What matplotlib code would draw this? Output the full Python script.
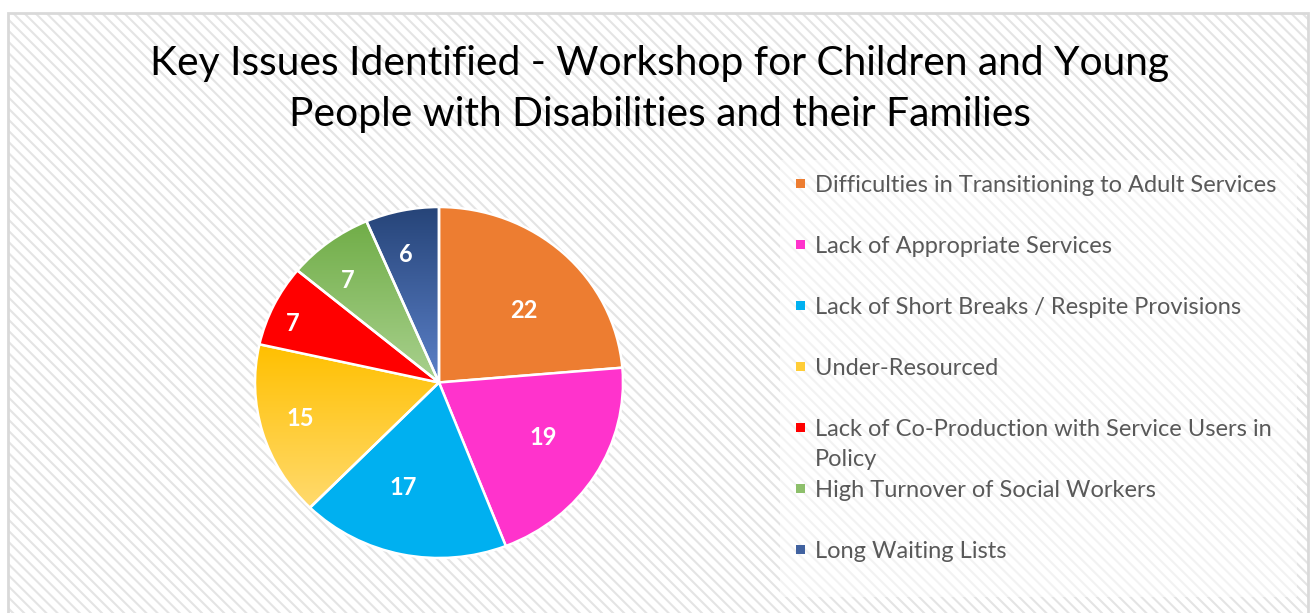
import numpy as np
import matplotlib.pyplot as plt
from matplotlib.patches import Rectangle
from matplotlib.colors import LinearSegmentedColormap, to_rgb

title = 'Key Issues Identified - Workshop for Children and Young\nPeople with Disabilities and their Families'
issues = ['Difficulties in Transitioning to Adult Services',
          'Lack of Appropriate Services',
          'Lack of Short Breaks / Respite Provisions',
          'Under-Resourced',
          'Lack of Co-Production with Service Users in\nPolicy',
          'High Turnover of Social Workers',
          'Long Waiting Lists']
counts = [22, 19, 17, 15, 7, 7, 6]
colors = ['#ED7D31', '#FF33CC', '#00B0F0', '#FFC000', '#FF0000', '#70AD47', '#2F528F']
# slices filled with a top -> bottom gradient
gradients = {3: ('#FFC000', '#FFDA6E'), 5: ('#70AD47', '#A9D18E'), 6: ('#264478', '#5B80C8')}

plt.rcParams['font.family'] = ['Lato', 'DejaVu Sans']
plt.rcParams['hatch.linewidth'] = 1.5

W, H = 1316, 613
fig = plt.figure(figsize=(W / 100, H / 100), dpi=100)


def fx(x):
    return x / W


def fy(y):
    return 1 - y / H


# striped chart area + frame
fig.add_artist(Rectangle((fx(8), 0), fx(1300), fy(13), transform=fig.transFigure, zorder=-3,
                         facecolor='white', edgecolor='#e4e4e4', hatch='\\\\\\', linewidth=0))
fig.add_artist(Rectangle((fx(8), -0.01), fx(1300), fy(13) + 0.01, transform=fig.transFigure, zorder=-2,
                         fill=False, edgecolor='#d9d9d9', linewidth=2))
# legend box
fig.add_artist(Rectangle((fx(780), fy(597)), fx(517), (597 - 160) / H, transform=fig.transFigure,
                         zorder=-1, facecolor='white', alpha=0.55, linewidth=0))

fig.text(fx(660), fy(89), title, ha='center', va='center', fontsize=29.3, color='black', linespacing=1.45)

ax = fig.add_axes([fx(255), fy(558), fx(368), (558 - 207) / H])
total = sum(counts)
wedges, texts, autotexts = ax.pie(
    counts, colors=colors, startangle=90, counterclock=False,
    autopct=lambda p: f'{p * total / 100:.0f}', pctdistance=0.63,
    wedgeprops=dict(edgecolor='white', linewidth=1.8),
    textprops=dict(color='white', fontsize=17, fontweight='bold'))

# excel pushes the labels of thin slices further out and nudges them a little
label_r = [0.625, 0.64, 0.62, 0.78, 0.87, 0.77, 0.76]
label_turn = [-4.8, 3.7, -6.6, -2.2, 2.5, 3.2, 2.2]
for t, w, r, d in zip(autotexts, wedges, label_r, label_turn):
    a = np.deg2rad((w.theta1 + w.theta2) / 2 + d)
    t.set_position((r * np.cos(a), r * np.sin(a)))
    t.set_va('center_baseline')

for i, (c0, c1) in gradients.items():
    w = wedges[i]
    ext = w.get_path().get_extents()
    cmap = LinearSegmentedColormap.from_list('g%d' % i, [c0, c1])
    im = ax.imshow(np.linspace(0, 1, 256).reshape(-1, 1), cmap=cmap, aspect='auto', origin='upper',
                   extent=(ext.x0, ext.x1, ext.y0, ext.y1), zorder=0.5)
    im.set_clip_path(w)
    w.set_facecolor('none')

ax.set_aspect('auto')
ax.set_xlim(-1, 1)
ax.set_ylim(-1, 1)
ax.axis('off')

# legend
for i, (lab, col) in enumerate(zip(issues, colors)):
    if i in gradients:
        col = tuple((np.array(to_rgb(gradients[i][0])) + np.array(to_rgb(gradients[i][1]))) / 2)
    yb = 192 + 61 * i
    for j, line in enumerate(lab.split('\n')):
        fig.text(fx(815), fy(yb + 30 * j), line, color='#595959', fontsize=17, ha='left', va='baseline')
    fig.add_artist(Rectangle((fx(796), fy(yb - 4)), fx(9), 9 / H, transform=fig.transFigure,
                             facecolor=col, linewidth=0))

fig.savefig('out.png', dpi=100)
